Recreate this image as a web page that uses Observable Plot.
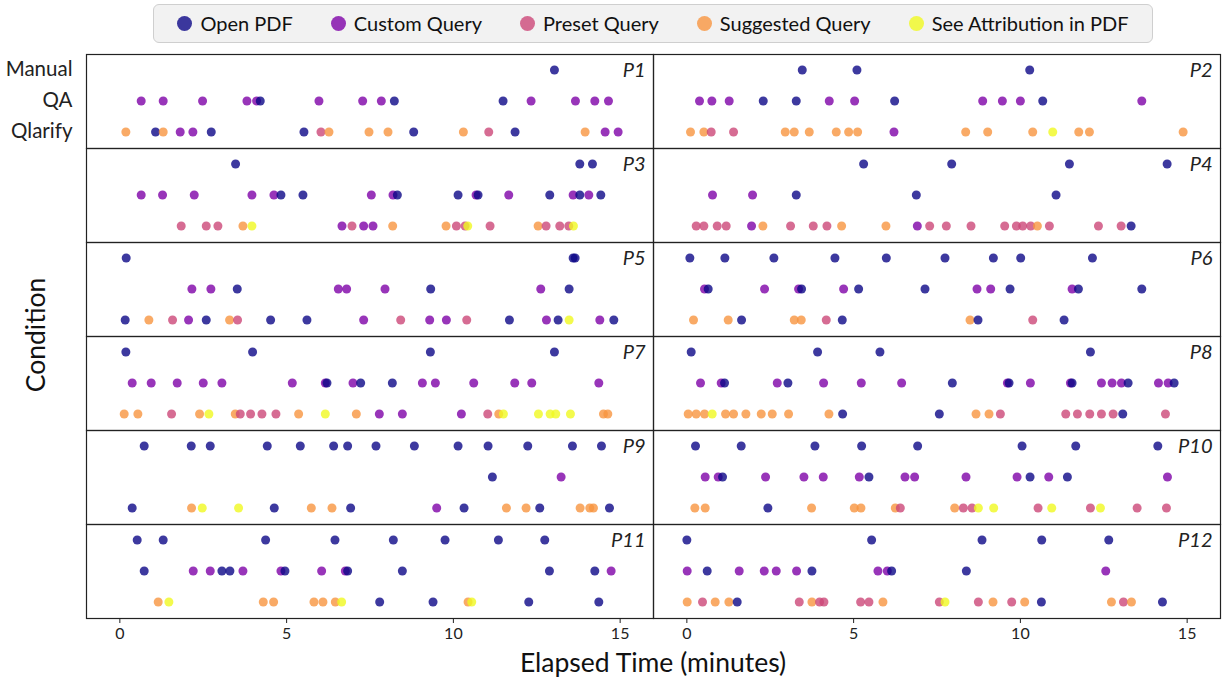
<!DOCTYPE html>
<html><head><meta charset="utf-8">
<script src="https://cdn.jsdelivr.net/npm/d3@7"></script>
<script src="https://cdn.jsdelivr.net/npm/@observablehq/plot@0.6"></script>
<style>
body{margin:0;background:#fff;font-family:Lato,sans-serif;}
#wrap{position:relative;width:1225px;height:685px;overflow:hidden;}
#legend{position:absolute;left:153px;top:4px;width:1000px;height:39px;box-sizing:border-box;border:1px solid #cfcfcf;border-radius:6px;background:#f2f2f2;display:flex;align-items:center;justify-content:center;gap:38px;font-size:20px;color:#111;padding-bottom:1px;}
.item{display:flex;align-items:center;gap:8px}
.sw{width:15px;height:15px;border-radius:50%}
#chart{position:absolute;left:0;top:48px;}
</style></head><body>
<div id="wrap"><div id="legend"></div><div id="chart"></div></div>
<script>
// ---- data ----
const types = ["Open PDF","Custom Query","Preset Query","Suggested Query","See Attribution in PDF"];
const colors = ["#0d0887","#7e03a8","#cc4778","#f89540","#f0f921"];
const conditions = ["Manual","QA","Qlarify"];
const participants = ["P1","P2","P3","P4","P5","P6","P7","P8","P9","P10","P11","P12"];
const xTicks = [0,5,10,15];
// events: [minutes, typeIndex]
const P1 = {
  Manual: [[13.03,0]],
  QA: [[0.64,1],[1.30,1],[2.48,1],[3.81,1],[4.10,1],[4.21,0],[5.97,1],[7.28,1],[7.84,1],[8.23,0],[11.49,0],[12.33,1],[13.66,1],[14.24,1],[14.65,1]],
  Qlarify: [[0.18,3],[1.07,0],[1.30,3],[1.81,1],[2.19,1],[2.74,0],[5.52,0],[6.03,2],[6.27,3],[7.47,3],[8.04,3],[8.81,0],[10.30,3],[11.06,2],[11.85,0],[13.95,3],[14.55,1],[14.94,1]]
};
const P2 = {
  Manual: [[3.46,0],[5.10,0],[10.28,0]],
  QA: [[0.38,1],[0.75,1],[1.27,1],[2.29,0],[3.28,0],[4.27,1],[5.03,1],[6.23,0],[8.87,1],[9.46,1],[10.00,1],[10.67,0],[13.64,1]],
  Qlarify: [[0.11,3],[0.51,3],[0.73,2],[1.40,2],[2.95,3],[3.22,3],[3.67,3],[4.48,3],[4.85,3],[5.12,3],[6.21,1],[8.36,3],[9.02,3],[10.37,3],[10.97,4],[11.75,3],[12.07,3],[14.88,3]]
};
const P3 = {
  Manual: [[3.47,0],[13.79,0],[14.17,0]],
  QA: [[0.64,1],[1.28,1],[2.23,1],[3.96,1],[4.62,1],[4.83,0],[5.49,0],[7.54,1],[8.19,1],[8.32,0],[10.14,0],[10.68,1],[10.74,0],[11.66,1],[12.89,0],[13.59,1],[13.79,0],[14.06,1],[14.42,0]],
  Qlarify: [[1.84,2],[2.59,2],[2.94,2],[3.69,3],[3.96,4],[6.66,1],[6.96,2],[7.31,1],[7.59,1],[8.18,3],[9.78,3],[10.09,2],[10.35,2],[10.43,4],[11.10,2],[12.54,3],[12.78,2],[13.19,2],[13.46,2],[13.60,4]]
};
const P4 = {
  Manual: [[5.30,0],[7.94,0],[11.47,0],[14.40,0]],
  QA: [[0.77,1],[1.97,1],[3.28,0],[6.88,0],[11.07,0]],
  Qlarify: [[0.28,2],[0.51,2],[0.91,2],[1.18,2],[1.94,1],[2.28,3],[3.11,2],[3.79,2],[4.20,2],[4.64,3],[5.97,3],[6.91,1],[7.28,2],[7.78,2],[8.52,2],[9.53,2],[9.88,2],[10.07,2],[10.31,2],[10.51,3],[10.87,2],[12.34,2],[13.02,2],[13.32,0]]
};
const P5 = {
  Manual: [[0.19,0],[13.59,0],[13.65,0]],
  QA: [[2.16,1],[2.73,1],[3.52,0],[6.55,1],[6.80,1],[7.95,1],[9.32,0],[12.62,1],[13.47,0]],
  Qlarify: [[0.16,0],[0.87,3],[1.58,2],[2.06,1],[2.59,0],[3.29,3],[3.53,2],[4.52,0],[5.61,0],[7.31,1],[8.42,2],[9.29,1],[9.79,1],[10.40,2],[11.68,0],[12.79,1],[13.14,0],[13.47,4],[14.39,1],[14.81,0]]
};
const P6 = {
  Manual: [[0.09,0],[1.14,0],[2.61,0],[4.44,0],[5.98,0],[7.74,0],[9.19,0],[10.01,0],[12.16,0]],
  QA: [[0.53,1],[0.64,0],[2.33,1],[3.35,1],[3.44,0],[4.70,1],[5.15,0],[7.14,0],[8.70,1],[9.11,1],[9.69,0],[11.55,1],[11.74,0],[13.64,0]],
  Qlarify: [[0.20,3],[1.24,3],[1.64,0],[3.22,3],[3.43,3],[4.18,2],[4.66,0],[8.49,3],[8.73,0],[10.37,2],[11.31,0]]
};
const P7 = {
  Manual: [[0.18,0],[3.98,0],[9.31,0],[13.03,0]],
  QA: [[0.37,1],[0.94,1],[1.72,1],[2.50,1],[3.06,1],[5.17,1],[6.16,1],[6.21,0],[6.99,1],[7.22,0],[8.17,0],[9.07,1],[9.46,1],[10.61,1],[11.84,1],[12.35,1],[14.36,1]],
  Qlarify: [[0.13,3],[0.54,3],[1.55,2],[2.39,3],[2.67,4],[3.46,3],[3.61,2],[3.92,2],[4.26,2],[4.68,2],[5.36,3],[6.16,4],[7.09,3],[7.78,1],[8.47,1],[10.24,1],[11.03,2],[11.36,3],[11.50,4],[12.55,4],[12.90,4],[13.07,4],[13.51,4],[14.50,3],[14.63,3]]
};
const P8 = {
  Manual: [[0.13,0],[3.92,0],[5.79,0],[12.10,0]],
  QA: [[0.41,1],[1.03,1],[1.13,0],[2.71,1],[3.03,0],[4.10,1],[5.23,1],[6.44,1],[7.96,0],[9.61,1],[9.66,0],[10.30,1],[11.50,1],[11.55,0],[12.43,1],[12.75,1],[13.03,1],[13.23,0],[14.14,1],[14.43,1],[14.61,0]],
  Qlarify: [[0.04,3],[0.28,3],[0.53,3],[0.76,4],[1.16,3],[1.40,3],[1.77,3],[2.23,3],[2.56,3],[3.05,3],[4.26,3],[4.67,0],[7.57,0],[8.67,3],[9.06,3],[9.40,2],[11.36,2],[11.71,2],[12.08,2],[12.43,2],[12.78,2],[13.07,0],[14.35,2]]
};
const P9 = {
  Manual: [[0.73,0],[2.14,0],[2.71,0],[4.42,0],[5.41,0],[6.41,0],[6.83,0],[7.68,0],[8.83,0],[10.14,0],[11.04,0],[12.23,0],[13.57,0],[14.44,0]],
  QA: [[11.17,0],[13.23,1]],
  Qlarify: [[0.37,0],[2.15,3],[2.47,4],[3.56,4],[4.63,0],[5.74,3],[6.36,3],[6.92,0],[9.50,1],[10.32,0],[11.59,3],[12.18,3],[12.59,0],[13.80,3],[14.09,3],[14.20,3],[14.68,0]]
};
const P10 = {
  Manual: [[0.26,0],[1.63,0],[3.84,0],[5.24,0],[6.92,0],[10.05,0],[11.66,0],[14.12,0]],
  QA: [[0.55,1],[0.94,1],[1.07,0],[2.36,1],[3.51,1],[4.09,1],[5.17,1],[5.46,0],[6.54,1],[6.83,1],[8.37,1],[9.90,1],[10.29,0],[10.85,1],[11.41,0],[14.41,1]],
  Qlarify: [[0.24,3],[0.55,3],[2.43,0],[3.74,3],[5.02,3],[5.22,3],[6.25,3],[6.40,2],[8.03,3],[8.29,2],[8.55,2],[8.74,4],[9.20,4],[10.53,2],[10.94,4],[12.10,2],[12.40,4],[13.50,2],[14.38,2]]
};
const P11 = {
  Manual: [[0.52,0],[1.30,0],[4.37,0],[6.45,0],[8.20,0],[9.75,0],[11.35,0],[12.74,0]],
  QA: [[0.73,0],[2.20,1],[2.71,1],[3.06,0],[3.30,0],[3.69,1],[4.83,1],[4.95,0],[6.05,1],[6.76,1],[6.83,0],[8.47,0],[12.88,0],[14.24,0],[14.73,1]],
  Qlarify: [[1.15,3],[1.47,4],[4.30,3],[4.61,3],[5.82,3],[6.09,3],[6.46,3],[6.65,4],[7.79,0],[9.39,0],[10.44,3],[10.55,4],[12.26,0],[14.36,0]]
};
const P12 = {
  Manual: [[0.00,0],[5.54,0],[8.85,0],[10.64,0],[12.65,0]],
  QA: [[0.01,1],[0.61,0],[1.57,1],[2.32,1],[2.68,1],[3.29,1],[3.75,0],[5.73,1],[6.01,1],[6.14,0],[8.38,0],[12.56,1]],
  Qlarify: [[0.01,3],[0.47,2],[0.85,3],[1.26,3],[1.51,0],[3.37,2],[3.75,3],[3.98,2],[4.11,2],[5.21,2],[5.46,2],[5.88,3],[7.57,2],[7.74,4],[8.74,2],[9.18,3],[9.74,2],[10.13,3],[10.63,0],[12.73,3],[13.09,2],[13.33,3],[14.26,0]]
};
const sessions = [P1,P2,P3,P4,P5,P6,P7,P8,P9,P10,P11,P12];

// ---- build table ----
const events = [];
sessions.forEach((s, i) => {
  const col = i % 2 === 0 ? "L" : "R", row = Math.floor(i / 2);
  conditions.forEach(c => s[c].forEach(([t, k]) => events.push({p: participants[i], col, row, cond: c, t, type: types[k]})));
});
const panels = participants.map((p, i) => ({p, col: i % 2 === 0 ? "L" : "R", row: Math.floor(i / 2)}));

// ---- legend ----
const lg = d3.select("#legend");
types.forEach((t, i) => {
  const it = lg.append("div").attr("class", "item");
  it.append("div").attr("class", "sw").style("background", colors[i]).style("opacity", 0.8);
  it.append("span").text(t);
});

// ---- plot ----
const chart = Plot.plot({
  width: 1225, height: 637,
  marginLeft: 86, marginRight: 5, marginTop: 5, marginBottom: 67,
  style: {fontFamily: "Lato, sans-serif", fontSize: "16px", color: "#222", background: "transparent"},
  x: {domain: [-1, 16]},
  y: {type: "point", domain: conditions, padding: 0.5, axis: null},
  fx: {domain: ["L", "R"], padding: 0, axis: null},
  fy: {domain: d3.range(6), padding: 0, axis: null},
  color: {domain: types, range: colors},
  marks: [
    Plot.dot(events, {x: "t", y: "cond", fx: "col", fy: "row", fill: "type", r: 4.5, fillOpacity: 0.8, dy: -0.5}),
    Plot.frame({stroke: "#222", strokeWidth: 1.2}),
    Plot.text(panels, {fx: "col", fy: "row", text: "p", y: () => "Manual", frameAnchor: "right", dx: -8, dy: 0, textAnchor: "end", fontStyle: "italic", fontSize: 20, fill: "#222"}),
    Plot.text(conditions, {fx: () => "L", fy: () => 0, y: d => d, text: d => d, frameAnchor: "left", dx: -14, dy: -1, textAnchor: "end", fontSize: 20.5, fill: "#222"}),
    Plot.axisX({ticks: xTicks, tickFormat: d => String(d), tickSize: 5, tickPadding: 4, label: null, fontSize: 16})
  ]
});
document.getElementById("chart").appendChild(chart);
const svg = d3.select(chart);
svg.append("text").attr("transform", "translate(38,287) rotate(-90)").attr("text-anchor", "middle").attr("dominant-baseline", "middle")
  .style("font-size", "26.5px").style("font-family", "Lato, sans-serif").attr("fill", "#111").text("Condition");
svg.append("text").attr("x", 653).attr("y", 617).attr("text-anchor", "middle").attr("dominant-baseline", "middle")
  .style("font-size", "26.5px").style("font-family", "Lato, sans-serif").attr("fill", "#111").text("Elapsed Time (minutes)");
</script>
</body></html>
